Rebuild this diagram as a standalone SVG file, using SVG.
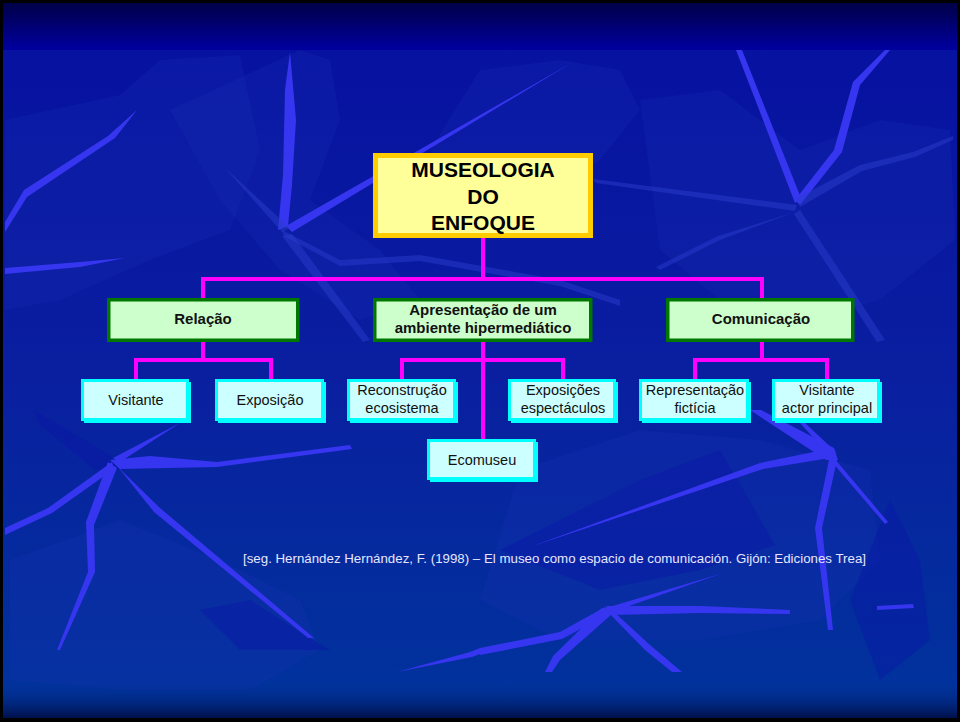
<svg xmlns="http://www.w3.org/2000/svg" width="960" height="722" viewBox="0 0 960 722">
<defs>
<linearGradient id="topband" x1="0" y1="0" x2="0" y2="1">
<stop offset="0" stop-color="#000048"/>
<stop offset="1" stop-color="#0000a0"/>
</linearGradient>
<linearGradient id="main" x1="0" y1="0" x2="0" y2="1">
<stop offset="0" stop-color="#0610a0"/>
<stop offset="0.5" stop-color="#0a1ea0"/>
<stop offset="1" stop-color="#00349c"/>
</linearGradient>
<linearGradient id="bottom" x1="0" y1="0" x2="0" y2="1">
<stop offset="0" stop-color="#00349c" stop-opacity="0"/>
<stop offset="1" stop-color="#00104a"/>
</linearGradient>
<style>
.vb{fill:#3636f0}
.vf{fill:#2a3ccc;opacity:0.5}
.pt{fill:#1a34b4;opacity:0.22}
.dk{fill:#0a14a8;opacity:0.4}
.conn{stroke:#ff00ff;stroke-width:4;fill:none}
.top rect{fill:#ffff99;stroke:#ffcc00;stroke-width:5}
.l2 rect{fill:#ccffcc;stroke:#007700;stroke-width:3.5}
.l3 .sh{fill:#00ffff}
.l3 .bx{fill:#ccffff;stroke:#00ffff;stroke-width:3}
.t1{font-family:"Liberation Sans",Arial,sans-serif;font-weight:bold;font-size:21px;fill:#000;text-anchor:middle}
.t2{font-family:"Liberation Sans",Arial,sans-serif;font-weight:bold;font-size:15px;fill:#111;text-anchor:middle}
.t3{font-family:"Liberation Sans",Arial,sans-serif;font-size:14.5px;fill:#111;text-anchor:middle}
.cit{font-family:"Liberation Sans",Arial,sans-serif;font-size:12.5px;fill:#e6e6ff}
</style>
</defs>
<g id="background">
<rect x="0" y="0" width="960" height="722" fill="#000"/>
<rect x="3" y="3" width="954" height="715" fill="url(#main)"/>
<polygon class="pt" points="5,120 120,95 160,60 240,55 260,150 230,230 150,260 60,300 5,310"/>
<polygon class="pt" points="170,110 300,50 330,60 340,120 310,200 380,250 420,300 360,320 280,270 220,200"/>
<polygon class="pt" points="480,70 560,60 620,70 640,110 600,160 540,200 470,200 430,150"/>
<polygon class="pt" points="640,100 720,90 800,150 880,120 950,130 955,240 880,300 800,320 720,300 660,250"/>
<polygon class="pt" points="520,470 640,430 760,440 870,470 880,560 820,620 700,640 560,640 480,600"/>
<polygon class="pt" points="10,560 120,520 220,560 300,600 320,650 250,690 120,690 10,680"/>
<polygon class="dk" points="500,550 560,520 640,480 720,450 775,545 700,570 600,590"/>
<polygon class="dk" points="33,410 110,455 120,470 95,470 40,425"/>
<polygon class="dk" points="200,610 250,600 313,640 330,650 240,650"/>
<polygon class="dk" points="890,500 920,560 930,640 880,680 850,600"/>
<polygon class="vb" points="137,110 115,138 27,197 5,232 5,222 24,190 108,136"/>
<polygon class="vb" points="290,52 296,120 292,185 288,226 278,230 283,175 285,90"/>
<polygon class="vb" points="286,226 573,62 292,232"/>
<polygon class="vf" points="225,168 290,228 282,232"/>
<polygon class="vf" points="282,230 340,260 420,255 560,280 620,300 620,306 560,286 420,261 340,266 284,236"/>
<polygon class="vf" points="292,234 370,340 363,342 282,236"/>
<polygon class="vb" points="5,268 80,262 125,258 80,267 5,274"/>
<polygon class="vb" points="736,50 742,50 801,198 795,203"/>
<polygon class="vb" points="885,50 890,50 860,85 842,152 800,205 795,200 834,150 853,82"/>
<polygon class="vf" points="797,198 860,165 913,152 953,136 953,140 915,157 862,171 800,207"/>
<polygon class="vf" points="797,205 593,179 596,183 795,211"/>
<polygon class="vf" points="800,210 885,340 877,342 794,214"/>
<polygon class="vf" points="795,212 720,240 660,270 656,267 718,236"/>
<polygon class="vb" points="110,460 150,456 217,462 350,445 352,449 217,467 120,469"/>
<polygon class="vb" points="113,458 180,423 120,462"/>
<polygon class="vb" points="112,462 114,469 52,513 5,535 5,528 48,508"/>
<polygon class="vb" points="108,462 117,468 94,525 95,572 60,650 57,650 88,572 86,522"/>
<polygon class="vb" points="114,462 122,471 160,508 314,638 308,638 154,512"/>
<polygon class="vb" points="397,672 470,652 480,648 480,654 472,657"/>
<polygon class="vb" points="750,410 761,410 834,448 838,460 826,460"/>
<polygon class="vb" points="800,423 805,423 836,452 829,455"/>
<polygon class="vb" points="828,449 836,457 763,469 530,547 760,463"/>
<polygon class="vb" points="830,455 837,460 822,528 833,630 828,630 815,528"/>
<polygon class="vb" points="834,458 888,522 885,524 832,462"/>
<polygon class="vb" points="480,648 560,632 605,607 612,612 562,639 480,655"/>
<polygon class="vb" points="602,608 612,614 560,660 552,672 545,672 553,656"/>
<polygon class="vb" points="606,610 614,612 650,645 682,672 672,672 645,650"/>
<polygon class="vb" points="606,606 700,606 790,610 790,614 700,613 610,615"/>
<polygon class="vb" points="606,608 723,573 612,612"/>
<polygon class="vb" points="877,606 913,604 914,608 877,610"/>
<rect x="3" y="680" width="954" height="38" fill="url(#bottom)"/>
<rect x="3" y="3" width="954" height="47" fill="url(#topband)"/>
</g>
<g id="connectors">
<path class="conn" d="M483,238 V279 M203,279 H762 M203,277 V299 M762,277 V299"/>
<path class="conn" d="M203,341 V360 M136,360 H271 M136,358 V380 M271,358 V380"/>
<path class="conn" d="M483,341 V440 M402,360 H563 M402,358 V380 M563,358 V380"/>
<path class="conn" d="M762,341 V360 M695,360 H827 M695,358 V380 M827,358 V380"/>
</g>
<g id="n-museologia" class="top">
<rect x="375.5" y="155.5" width="215" height="80"/>
<text class="t1" x="483" y="177">MUSEOLOGIA</text>
<text class="t1" x="483" y="203.5">DO</text>
<text class="t1" x="483" y="230">ENFOQUE</text>
</g>
<g id="n-relacao" class="l2">
<rect x="108.75" y="299.75" width="189" height="40.5"/>
<text class="t2" x="203" y="324">Relação</text>
</g>
<g id="n-apresentacao" class="l2">
<rect x="374.75" y="299.75" width="216" height="40.5"/>
<text class="t2" x="483" y="315">Apresentação de um</text>
<text class="t2" x="483" y="333">ambiente hipermediático</text>
</g>
<g id="n-comunicacao" class="l2">
<rect x="667.75" y="299.75" width="185" height="40.5"/>
<text class="t2" x="761" y="324">Comunicação</text>
</g>
<g id="n-visitante" class="l3">
<rect class="sh" x="84" y="382" width="107" height="41"/>
<rect class="bx" x="82.5" y="380.5" width="105" height="39"/>
<text class="t3" x="136" y="405">Visitante</text>
</g>
<g id="n-exposicao" class="l3">
<rect class="sh" x="218" y="382" width="108" height="41"/>
<rect class="bx" x="216.5" y="380.5" width="106" height="39"/>
<text class="t3" x="270" y="405">Exposição</text>
</g>
<g id="n-reconstrucao" class="l3">
<rect class="sh" x="350" y="382" width="108" height="41"/>
<rect class="bx" x="348.5" y="380.5" width="106" height="39"/>
<text class="t3" x="402" y="395">Reconstrução</text>
<text class="t3" x="402" y="413">ecosistema</text>
</g>
<g id="n-exposicoes" class="l3">
<rect class="sh" x="511" y="382" width="107" height="41"/>
<rect class="bx" x="509.5" y="380.5" width="105" height="39"/>
<text class="t3" x="563" y="395">Exposições</text>
<text class="t3" x="563" y="413">espectáculos</text>
</g>
<g id="n-ecomuseu" class="l3">
<rect class="sh" x="430" y="442" width="108" height="40"/>
<rect class="bx" x="428.5" y="440.5" width="106" height="38"/>
<text class="t3" x="482" y="465">Ecomuseu</text>
</g>
<g id="n-representacao" class="l3">
<rect class="sh" x="642" y="382" width="109" height="41"/>
<rect class="bx" x="640.5" y="380.5" width="107" height="39"/>
<text class="t3" x="695" y="395">Representação</text>
<text class="t3" x="695" y="413">fictícia</text>
</g>
<g id="n-visitante-actor" class="l3">
<rect class="sh" x="775" y="382" width="107" height="41"/>
<rect class="bx" x="773.5" y="380.5" width="105" height="39"/>
<text class="t3" x="827" y="395">Visitante</text>
<text class="t3" x="827" y="413">actor principal</text>
</g>
<g id="citation">
<text class="cit" x="243" y="563" textLength="623" lengthAdjust="spacingAndGlyphs">[seg. Hernández Hernández, F. (1998) – El museo como espacio de comunicación. Gijón: Ediciones Trea]</text>
</g>
</svg>
